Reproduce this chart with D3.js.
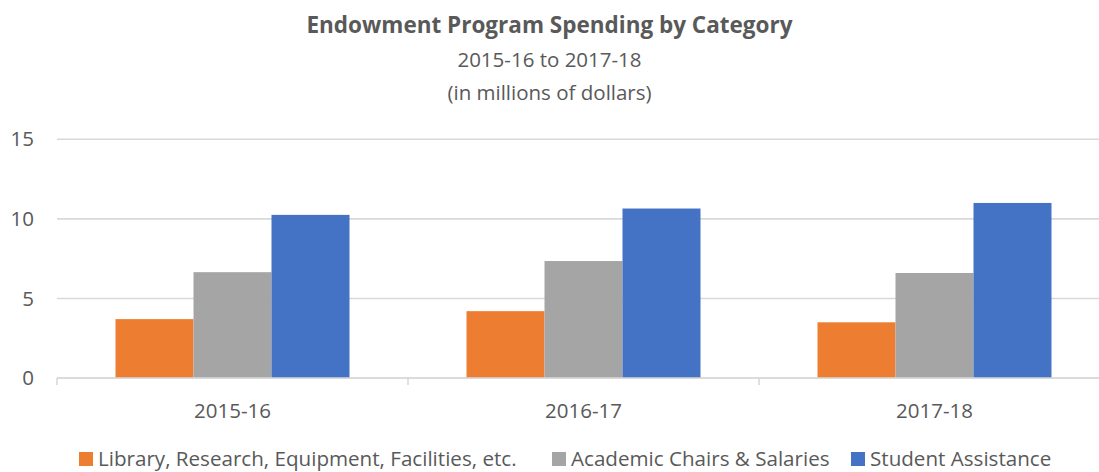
<!DOCTYPE html>
<html>
<head>
<meta charset="utf-8">
<script src="https://cdn.jsdelivr.net/npm/d3@7"></script>
<style>
  html, body { margin: 0; padding: 0; background: #fff; }
  svg { display: block; }
  text { font-family: "Open Sans", Lato, sans-serif; fill: #595959; }
</style>
</head>
<body>
<svg id="chart" width="1099" height="472"></svg>
<script>
// Fiscal years on the category axis
const years = ["2015-16", "2016-17", "2017-18"];
// Spending categories (series) and their colours
const seriesNames = ["Library, Research, Equipment, Facilities, etc.", "Academic Chairs & Salaries", "Student Assistance"];
const seriesColors = ["#ED7D31", "#A5A5A5", "#4472C4"];
// Spending per series, in millions of dollars
const libraryValues = [3.7, 4.2, 3.5];
const chairsValues = [6.65, 7.35, 6.6];
const studentValues = [10.25, 10.65, 11.0];
// Value axis ticks
const yTicks = [0, 5, 10, 15];

const allSeries = [libraryValues, chairsValues, studentValues];

const svg = d3.select("#chart");
const W = 1099;

const plotLeft = 57, plotTop = 139.3, plotBottom = 378;
const step = 351;

const x0 = d3.scaleBand()
  .domain(years)
  .range([plotLeft, plotLeft + step * years.length])
  .paddingInner(1 / 3)
  .paddingOuter(1 / 6);

const x1 = d3.scaleBand()
  .domain(seriesNames)
  .range([0, x0.bandwidth()]);

const y = d3.scaleLinear().domain([0, 15]).range([plotBottom, plotTop]);

// Horizontal gridlines
svg.append("g")
  .selectAll("line")
  .data(yTicks)
  .join("line")
  .attr("x1", plotLeft)
  .attr("x2", W)
  .attr("y1", d => y(d))
  .attr("y2", d => y(d))
  .attr("stroke", "#d9d9d9")
  .attr("stroke-width", 1.6);

// Value axis labels
svg.append("g")
  .selectAll("text")
  .data(yTicks)
  .join("text")
  .attr("x", 34)
  .attr("y", d => y(d))
  .attr("dy", "0.35em")
  .attr("text-anchor", "end")
  .style("font-size", "20.5px")
  .text(d => d);

// Bars
const groups = svg.append("g")
  .selectAll("g")
  .data(years)
  .join("g")
  .attr("transform", d => `translate(${x0(d)},0)`);

groups.selectAll("rect")
  .data((yr, i) => seriesNames.map((s, k) => ({ s, k, v: allSeries[k][i] })))
  .join("rect")
  .attr("x", d => x1(d.s))
  .attr("width", x1.bandwidth())
  .attr("y", d => y(d.v))
  .attr("height", d => y(0) - y(d.v))
  .attr("fill", d => seriesColors[d.k]);

// Category axis line and tick marks at band boundaries
svg.append("line")
  .attr("x1", plotLeft).attr("x2", W)
  .attr("y1", y(0)).attr("y2", y(0))
  .attr("stroke", "#d9d9d9").attr("stroke-width", 1.6);

const boundaries = d3.range(years.length + 1).map(i => plotLeft + i * x0.step());
svg.append("g")
  .selectAll("line")
  .data(boundaries)
  .join("line")
  .attr("x1", d => d).attr("x2", d => d)
  .attr("y1", y(0)).attr("y2", y(0) + 7)
  .attr("stroke", "#d9d9d9").attr("stroke-width", 1.6);

// Category labels
svg.append("g")
  .selectAll("text")
  .data(years)
  .join("text")
  .attr("x", d => x0(d) + x0.bandwidth() / 2)
  .attr("y", 418)
  .attr("text-anchor", "middle")
  .style("font-size", "20.5px")
  .text(d => d);

// Titles
svg.append("text")
  .attr("x", W / 2).attr("y", 33)
  .attr("text-anchor", "middle")
  .style("font-size", "22.5px").style("font-weight", "bold")
  .text("Endowment Program Spending by Category");
svg.append("text")
  .attr("x", W / 2).attr("y", 67)
  .attr("text-anchor", "middle")
  .style("font-size", "20.5px")
  .text("2015-16 to 2017-18");
svg.append("text")
  .attr("x", W / 2).attr("y", 100)
  .attr("text-anchor", "middle")
  .style("font-size", "20.5px")
  .text("(in millions of dollars)");

// Legend
const legendX = [79, 552, 851];
const legend = svg.append("g")
  .selectAll("g")
  .data(seriesNames)
  .join("g")
  .attr("transform", (d, i) => `translate(${legendX[i]},452)`);
legend.append("rect")
  .attr("width", 14).attr("height", 14)
  .attr("fill", (d, i) => seriesColors[i]);
legend.append("text")
  .attr("x", 19).attr("y", 13.5)
  .style("font-size", "20.6px")
  .text(d => d);
</script>
</body>
</html>
